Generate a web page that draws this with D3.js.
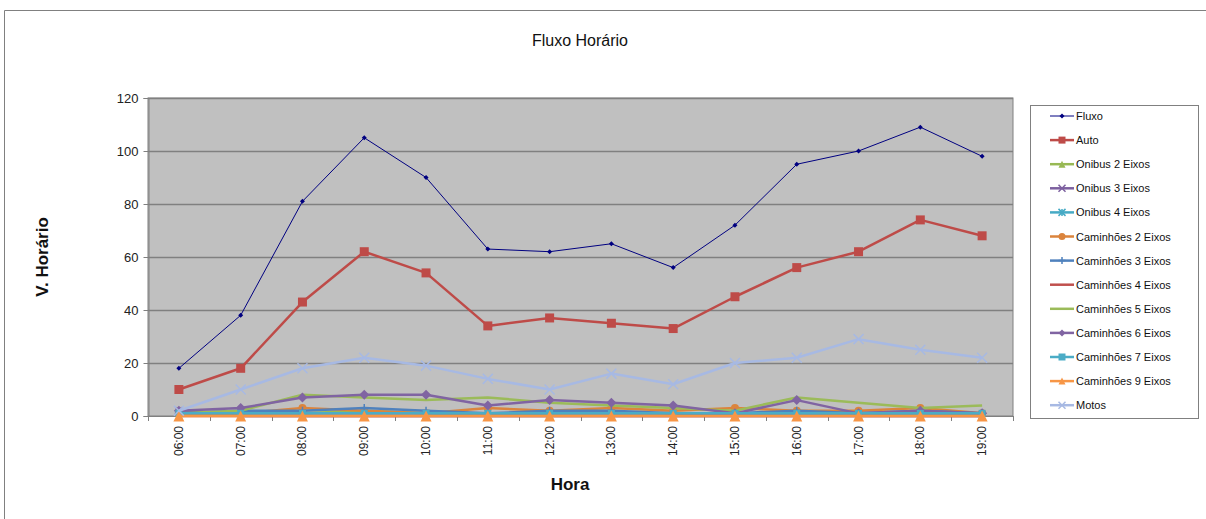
<!DOCTYPE html>
<html>
<head>
<meta charset="utf-8">
<script src="https://cdn.jsdelivr.net/npm/d3@7"></script>
<style>
	body { margin: 0; background: #fff; }
	text { font-family: "Liberation Sans", Arial, sans-serif; }
</style>
</head>
<body>
<div id="chart"></div>
<script>
// DATA
const hours = ["06:00", "07:00", "08:00", "09:00", "10:00", "11:00", "12:00",
	"13:00", "14:00", "15:00", "16:00", "17:00", "18:00", "19:00"];
const yTicks = [0, 20, 40, 60, 80, 100, 120];

const fluxo      = [18, 38, 81, 105, 90, 63, 62, 65, 56, 72, 95, 100, 109, 98];
const auto       = [10, 18, 43, 62, 54, 34, 37, 35, 33, 45, 56, 62, 74, 68];
const onibus2    = [1, 1, 1, 2, 1, 1, 1, 1, 1, 1, 1, 1, 1, 1];
const onibus3    = [2, 0, 0, 0, 0, 0, 0, 0, 0, 0, 0, 0, 0, 0];
const onibus4    = [0, 1, 1, 1, 1, 0, 1, 1, 1, 0, 1, 0, 1, 0];
const caminhoes2 = [1, 1, 3, 2, 1, 3, 2, 3, 2, 3, 2, 2, 3, 1];
const caminhoes3 = [1, 2, 2, 3, 2, 1, 2, 2, 1, 1, 2, 1, 2, 1];
const caminhoes4 = [0, 0, 0, 0, 0, 0, 0, 0, 0, 0, 0, 0, 0, 0];
const caminhoes5 = [1, 2, 8, 7, 6, 7, 5, 4, 3, 2, 7, 5, 3, 4];
const caminhoes6 = [2, 3, 7, 8, 8, 4, 6, 5, 4, 1, 6, 1, 2, 1];
const caminhoes7 = [1, 1, 1, 1, 1, 1, 1, 1, 1, 1, 1, 1, 1, 1];
const caminhoes9 = [0, 0, 0, 0, 0, 0, 0, 0, 0, 0, 0, 0, 0, 0];
const motos      = [2, 10, 18, 22, 19, 14, 10, 16, 12, 20, 22, 29, 25, 22];

const seriesNames = ["Fluxo", "Auto", "Onibus 2 Eixos", "Onibus 3 Eixos", "Onibus 4 Eixos",
	"Caminhões 2 Eixos", "Caminhões 3 Eixos", "Caminhões 4 Eixos", "Caminhões 5 Eixos",
	"Caminhões 6 Eixos", "Caminhões 7 Eixos", "Caminhões 9 Eixos", "Motos"];
const seriesValues = [fluxo, auto, onibus2, onibus3, onibus4, caminhoes2, caminhoes3,
	caminhoes4, caminhoes5, caminhoes6, caminhoes7, caminhoes9, motos];

// style per series: color, marker, marker size, line width
const styles = [
	{ color: "#000080", marker: "diamond", size: 5, lw: 1 },
	{ color: "#BE4B48", marker: "square", size: 9, lw: 2.5 },
	{ color: "#98B954", marker: "triangle", size: 7, lw: 2.5 },
	{ color: "#7D60A0", marker: "x", size: 7, lw: 2.5 },
	{ color: "#46AAC5", marker: "star", size: 7, lw: 2.5 },
	{ color: "#DB843D", marker: "circle", size: 8, lw: 2.5 },
	{ color: "#4F81BD", marker: "plus", size: 8, lw: 2.5 },
	{ color: "#C0504D", marker: null, size: 0, lw: 2.5 },
	{ color: "#9BBB59", marker: null, size: 0, lw: 2.5 },
	{ color: "#8064A2", marker: "diamond", size: 10, lw: 2.5 },
	{ color: "#4BACC6", marker: "square", size: 7, lw: 2.5 },
	{ color: "#F79646", marker: "triangle", size: 11, lw: 2.5 },
	{ color: "#A7B9E3", marker: "x", size: 10, lw: 2.5 }
];

const series = seriesNames.map((name, i) => ({
	name: name,
	values: seriesValues[i],
	style: styles[i]
}));

// SVG
const width = 1206;
const height = 519;
const svg = d3.select("#chart")
	.append("svg")
	.attr("width", width)
	.attr("height", height);

// outer chart border
svg.append("path")
	.attr("d", "M4.5," + height + "V10.5H" + width)
	.attr("fill", "none")
	.attr("stroke", "#808080")
	.attr("stroke-width", 1);

const plot = { left: 148, right: 1013, top: 98, bottom: 416 };

const x = d3.scaleBand()
	.domain(hours)
	.range([plot.left, plot.right]);
const y = d3.scaleLinear()
	.domain([0, 120])
	.range([plot.bottom, plot.top]);

// plot background
svg.append("rect")
	.attr("x", plot.left)
	.attr("y", plot.top)
	.attr("width", plot.right - plot.left)
	.attr("height", plot.bottom - plot.top)
	.attr("fill", "#C0C0C0")
	.attr("stroke", "#808080")
	.attr("stroke-width", 1);

// gridlines
svg.append("g")
	.selectAll("line")
	.data(yTicks.slice(1))
	.enter()
	.append("line")
		.attr("x1", plot.left)
		.attr("x2", plot.right)
		.attr("y1", d => Math.round(y(d)) + 0.5)
		.attr("y2", d => Math.round(y(d)) + 0.5)
		.attr("stroke", "#808080")
		.attr("stroke-width", 1.5);

// y axis
const yAxis = svg.append("g")
	.attr("transform", "translate(" + (plot.left + 0.5) + ",0)")
	.call(d3.axisLeft(y).tickValues(yTicks).tickSize(5).tickPadding(5));
yAxis.select(".domain").attr("stroke", "#808080");
yAxis.selectAll(".tick line").attr("stroke", "#808080");
yAxis.selectAll("text")
	.attr("font-size", 13)
	.attr("fill", "#222")
	.style("font-family", "'Liberation Sans', Arial, sans-serif");

// x axis: ticks at category boundaries
const xg = svg.append("g");
xg.append("line")
	.attr("x1", plot.left)
	.attr("x2", plot.right)
	.attr("y1", plot.bottom + 0.5)
	.attr("y2", plot.bottom + 0.5)
	.attr("stroke", "#808080");
xg.selectAll(".bt")
	.data(hours.concat(["end"]))
	.enter()
	.append("line")
		.attr("x1", (d, i) => Math.round(plot.left + i * x.step()) + 0.5)
		.attr("x2", (d, i) => Math.round(plot.left + i * x.step()) + 0.5)
		.attr("y1", plot.bottom)
		.attr("y2", plot.bottom + 5)
		.attr("stroke", "#808080");
xg.selectAll("text")
	.data(hours)
	.enter()
	.append("text")
		.attr("transform", d => "translate(" + (x(d) + x.bandwidth() / 2 + 4) + "," + (plot.bottom + 10) + ") rotate(-90)")
		.attr("text-anchor", "end")
		.attr("font-size", 12)
		.attr("fill", "#222")
		.text(d => d);

// titles
svg.append("text")
	.attr("x", 580)
	.attr("y", 46)
	.attr("text-anchor", "middle")
	.attr("font-size", 16)
	.attr("fill", "#111")
	.text("Fluxo Horário");
svg.append("text")
	.attr("transform", "translate(48,257) rotate(-90)")
	.attr("text-anchor", "middle")
	.attr("font-size", 17)
	.attr("font-weight", "bold")
	.attr("fill", "#111")
	.text("V. Horário");
svg.append("text")
	.attr("x", 570)
	.attr("y", 490)
	.attr("text-anchor", "middle")
	.attr("font-size", 17)
	.attr("font-weight", "bold")
	.attr("fill", "#111")
	.text("Hora");

// MARKERS
function drawMarker(g, st, cx, cy) {
	const s = st.size;
	if (!st.marker) return;
	if (st.marker === "x" || st.marker === "plus" || st.marker === "star") {
		const h = s / 2;
		let d = "";
		if (st.marker !== "plus") d += `M${cx - h},${cy - h}L${cx + h},${cy + h}M${cx - h},${cy + h}L${cx + h},${cy - h}`;
		if (st.marker !== "x") d += `M${cx},${cy - h}L${cx},${cy + h}`;
		if (st.marker === "plus") d += `M${cx - h},${cy}L${cx + h},${cy}`;
		g.append("path")
			.attr("d", d)
			.attr("stroke", st.color)
			.attr("stroke-width", 1.5)
			.attr("fill", "none");
		return;
	}
	const types = {
		diamond: [[0, -s / 2], [s / 2, 0], [0, s / 2], [-s / 2, 0]],
		square: [[-s / 2, -s / 2], [s / 2, -s / 2], [s / 2, s / 2], [-s / 2, s / 2]],
		triangle: [[0, -s / 2], [s / 2, s / 2], [-s / 2, s / 2]]
	};
	if (st.marker === "circle") {
		g.append("circle")
			.attr("cx", cx)
			.attr("cy", cy)
			.attr("r", s / 2)
			.attr("fill", st.color);
	} else {
		g.append("path")
			.attr("d", "M" + types[st.marker].map(p => (cx + p[0]) + "," + (cy + p[1])).join("L") + "Z")
			.attr("fill", st.color);
	}
}

// DRAW series
const line = d3.line()
	.x((d, i) => x(hours[i]) + x.bandwidth() / 2)
	.y(d => y(d));

series.forEach(s => {
	const g = svg.append("g");
	g.append("path")
		.attr("d", line(s.values))
		.attr("fill", "none")
		.attr("stroke", s.style.color)
		.attr("stroke-width", s.style.lw)
		.attr("stroke-linejoin", "round");
	s.values.forEach((v, i) => drawMarker(g, s.style, x(hours[i]) + x.bandwidth() / 2, y(v)));
});

// LEGEND
const legend = svg.append("g");
legend.append("rect")
	.attr("x", 1030.5)
	.attr("y", 105.5)
	.attr("width", 168)
	.attr("height", 313)
	.attr("fill", "#fff")
	.attr("stroke", "#808080");
series.forEach((s, i) => {
	const ly = 116 + i * 24.1;
	const g = legend.append("g");
	g.append("line")
		.attr("x1", 1050)
		.attr("x2", 1074)
		.attr("y1", ly)
		.attr("y2", ly)
		.attr("stroke", s.style.color)
		.attr("stroke-width", s.style.lw);
	drawMarker(g, Object.assign({}, s.style, { size: Math.min(s.style.size, 7) }), 1062, ly);
	g.append("text")
		.attr("x", 1076)
		.attr("y", ly + 4)
		.attr("font-size", 11)
		.attr("fill", "#111")
		.text(s.name);
});
</script>
</body>
</html>
